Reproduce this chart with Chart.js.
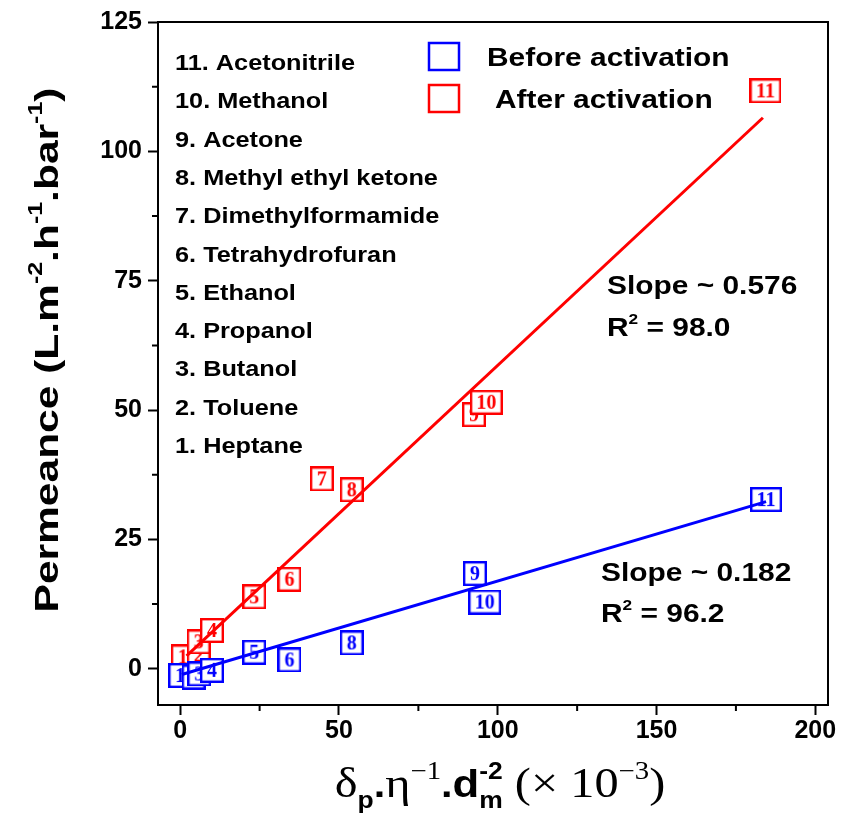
<!DOCTYPE html>
<html>
<head>
<meta charset="utf-8">
<script src="https://cdn.jsdelivr.net/npm/chart.js@4.4.0/dist/chart.umd.min.js"></script>
<style>
  html, body { margin: 0; padding: 0; background: #fff; }
  #wrap { width: 841px; height: 821px; position: relative; }
</style>
</head>
<body>
<div id="wrap"><canvas id="chart"></canvas></div>
<script>
// solvent list, top to bottom as in the key
const solventKey = ['11. Acetonitrile', '10. Methanol', '9. Acetone', '8. Methyl ethyl ketone',
  '7. Dimethylformamide', '6. Tetrahydrofuran', '5. Ethanol', '4. Propanol',
  '3. Butanol', '2. Toluene', '1. Heptane'];

// before activation (blue)
const beforeLabels = ['1', '2', '3', '4', '5', '6', '8', '9', '10', '11'];
const beforeX = [0, 4.2, 6.0, 10.0, 23.3, 34.4, 54.0, 92.8, 95.9, 184.5];
const beforeY = [-1.3, -1.6, -1.0, -0.3, 3.2, 1.7, 5.0, 18.4, 12.9, 32.7];

// after activation (red)
const afterLabels = ['1', '2', '3', '4', '5', '6', '7', '8', '9', '10', '11'];
const afterX = [0.8, 5.8, 5.8, 10.0, 23.3, 34.4, 44.6, 54.0, 92.5, 96.4, 184.3];
const afterY = [2.3, 2.6, 5.2, 7.4, 13.9, 17.3, 36.7, 34.6, 49.1, 51.5, 111.7];

// linear fits (end points of the drawn lines)
const beforeFitX = [0.5, 184.5];
const beforeFitY = [-1.1, 32.3];
const afterFitX = [2.0, 183.5];
const afterFitY = [2.5, 106.5];

const xTicks = [0, 50, 100, 150, 200];
const yTicks = [0, 25, 50, 75, 100, 125];
const xMinor = [25, 75, 125, 175];
const yMinor = [12.5, 37.5, 62.5, 87.5, 112.5];

const BLUE = '#0000ff';
const RED = '#ff0000';
const SANS = '"Liberation Sans", Arial, sans-serif';
const SERIF = '"Liberation Serif", "Times New Roman", serif';

// numbered box used as point marker
const boxCache = {};
const boxFor = (label, color) => {
  const key = label + color;
  if (boxCache[key]) return boxCache[key];
  const c = document.createElement('canvas');
  const g = c.getContext('2d');
  g.font = 'bold 20px ' + SERIF;
  const tw = g.measureText(label).width;
  c.width = Math.max(24, Math.round(tw + 13));
  c.height = 25;
  g.fillStyle = '#fff';
  g.fillRect(0, 0, c.width, c.height);
  g.strokeStyle = color;
  g.lineWidth = 2.4;
  g.strokeRect(1.2, 1.2, c.width - 2.4, c.height - 2.4);
  g.fillStyle = color;
  g.font = 'bold 20px ' + SERIF;
  g.textAlign = 'center';
  g.textBaseline = 'middle';
  g.fillText(label, c.width / 2, c.height / 2 + 1);
  boxCache[key] = c;
  return c;
};

// text made of runs (superscripts, subscripts, mixed fonts)
const drawRich = (ctx, segs, x, y, opts = {}) => {
  ctx.save();
  ctx.translate(x, y);
  if (opts.rot) ctx.rotate(opts.rot);
  ctx.scale(opts.sx || 1, 1);
  ctx.fillStyle = opts.color || '#000';
  ctx.textBaseline = 'alphabetic';
  ctx.textAlign = 'left';
  const widths = segs.map(s => { ctx.font = s.f; return ctx.measureText(s.t).width; });
  let total = 0;
  let stack = 0;
  segs.forEach((s, i) => {
    if (s.keep) stack = Math.max(stack, widths[i]);
    else { total += Math.max(widths[i], stack); stack = 0; }
  });
  let cx = opts.align === 'center' ? -total / 2 : 0;
  stack = 0;
  segs.forEach((s, i) => {
    ctx.font = s.f;
    ctx.fillText(s.t, cx, s.dy || 0);
    if (s.keep) stack = Math.max(stack, widths[i]);
    else { cx += Math.max(widths[i], stack); stack = 0; }
  });
  ctx.restore();
};

const bold = (size) => 'bold ' + size + 'px ' + SANS;
const serif = (size) => size + 'px ' + SERIF;

const framePlugin = {
  id: 'frame',
  afterDraw(chart) {
    const { ctx, chartArea: a, scales } = chart;
    ctx.save();
    ctx.strokeStyle = '#000';
    ctx.lineWidth = 2;
    ctx.beginPath();
    ctx.moveTo(a.left, a.top);
    ctx.lineTo(a.right, a.top);
    ctx.lineTo(a.right, a.bottom);
    ctx.stroke();
    // minor ticks
    ctx.beginPath();
    xMinor.forEach(v => {
      const px = scales.x.getPixelForValue(v);
      ctx.moveTo(px, a.bottom);
      ctx.lineTo(px, a.bottom + 6);
    });
    yMinor.forEach(v => {
      const py = scales.y.getPixelForValue(v);
      ctx.moveTo(a.left, py);
      ctx.lineTo(a.left - 6, py);
    });
    ctx.stroke();

    // solvent key
    solventKey.forEach((s, i) => {
      drawRich(ctx, [{ t: s, f: bold(22) }], 175, 70 + i * 38.3, { sx: 1.15 });
    });

    // series key
    ctx.lineWidth = 2.5;
    ctx.strokeStyle = BLUE;
    ctx.strokeRect(429, 43, 30, 27);
    ctx.strokeStyle = RED;
    ctx.strokeRect(429, 85, 30, 27);
    drawRich(ctx, [{ t: 'Before activation', f: bold(26) }], 487, 66, { sx: 1.15 });
    drawRich(ctx, [{ t: 'After activation', f: bold(26) }], 495, 108, { sx: 1.15 });

    // fit annotations
    const sup = bold(15);
    drawRich(ctx, [{ t: 'Slope ~ 0.576', f: bold(26) }], 607, 294, { sx: 1.15 });
    drawRich(ctx, [{ t: 'R', f: bold(26) }, { t: '2', f: sup, dy: -12 }, { t: ' = 98.0', f: bold(26) }], 607, 336, { sx: 1.15 });
    drawRich(ctx, [{ t: 'Slope ~ 0.182', f: bold(26) }], 601, 581, { sx: 1.15 });
    drawRich(ctx, [{ t: 'R', f: bold(26) }, { t: '2', f: sup, dy: -12 }, { t: ' = 96.2', f: bold(26) }], 601, 622, { sx: 1.15 });

    // axis titles
    drawRich(ctx, [
      { t: 'Permeance (L.m', f: bold(34) },
      { t: '-2', f: bold(20), dy: -16 },
      { t: '.h', f: bold(34) },
      { t: '-1', f: bold(20), dy: -16 },
      { t: '.bar', f: bold(34) },
      { t: '-1', f: bold(20), dy: -16 },
      { t: ')', f: bold(34) }
    ], 58, 350, { rot: -Math.PI / 2, align: 'center', sx: 1.25 });

    drawRich(ctx, [
      { t: 'δ', f: serif(42) },
      { t: 'p', f: bold(23), dy: 11 },
      { t: '.', f: bold(36) },
      { t: 'η', f: serif(42) },
      { t: '−1', f: serif(25), dy: -18 },
      { t: '.', f: bold(36) },
      { t: 'd', f: bold(38) },
      { t: 'm', f: bold(23), dy: 11, keep: true },
      { t: '-2', f: bold(23), dy: -18 },
      { t: ' (× 10', f: serif(42) },
      { t: '−3', f: serif(25), dy: -18 },
      { t: ')', f: serif(42) }
    ], 500, 797, { align: 'center', sx: 1.15 });
    ctx.restore();
  }
};

const tickFont = { family: SANS, weight: 'bold', size: 25 };

const chart = new Chart(document.getElementById('chart'), {
  type: 'scatter',
  data: {
    datasets: [
      {
        label: 'Before activation fit',
        data: beforeFitX.map((x, i) => ({ x, y: beforeFitY[i] })),
        showLine: true, borderColor: BLUE, borderWidth: 3, pointRadius: 0, order: 0
      },
      {
        label: 'After activation fit',
        data: afterFitX.map((x, i) => ({ x, y: afterFitY[i] })),
        showLine: true, borderColor: RED, borderWidth: 3, pointRadius: 0, order: 1
      },
      {
        label: 'Before activation',
        data: beforeX.map((x, i) => ({ x, y: beforeY[i] })),
        pointStyle: c => boxFor(beforeLabels[c.dataIndex], BLUE),
        pointRadius: 12, order: 2
      },
      {
        label: 'After activation',
        data: afterX.map((x, i) => ({ x, y: afterY[i] })),
        pointStyle: c => boxFor(afterLabels[c.dataIndex], RED),
        pointRadius: 12, order: 3
      }
    ]
  },
  options: {
    responsive: true,
    maintainAspectRatio: false,
    animation: false,
    layout: { padding: { top: 22, right: 12, left: 0, bottom: 0 } },
    plugins: { legend: { display: false }, tooltip: { enabled: false } },
    scales: {
      x: {
        type: 'linear', min: -7, max: 204,
        afterBuildTicks: s => { s.ticks = xTicks.map(v => ({ value: v })); },
        afterFit: s => { s.height = 116; },
        grid: { drawOnChartArea: false, tickLength: 10, tickWidth: 2, tickColor: '#000' },
        border: { color: '#000', width: 2 },
        ticks: { color: '#000', font: tickFont, padding: 1, maxRotation: 0 }
      },
      y: {
        type: 'linear', min: -7, max: 125,
        afterBuildTicks: s => { s.ticks = yTicks.map(v => ({ value: v })); },
        afterFit: s => { s.width = 158; },
        grid: { drawOnChartArea: false, tickLength: 10, tickWidth: 2, tickColor: '#000' },
        border: { color: '#000', width: 2 },
        ticks: { color: '#000', font: tickFont, padding: 6 }
      }
    }
  },
  plugins: [framePlugin]
});
</script>
</body>
</html>
